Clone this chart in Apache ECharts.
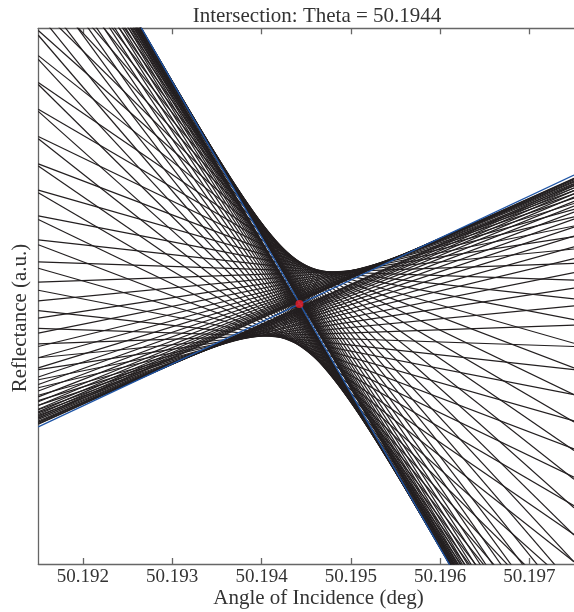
<!DOCTYPE html><html><head><meta charset="utf-8">
<script src="https://cdn.jsdelivr.net/npm/echarts@6/dist/echarts.min.js"></script>
<style>html,body{margin:0;padding:0;background:#fff}#c{width:574px;height:612px}</style>
</head><body><div id="c"></div><script>
// x range (deg) and tick labels
const X_MIN = 50.1915, X_MAX = 50.1975;
const xTicks = [50.192, 50.193, 50.194, 50.195, 50.196, 50.197];
// reflectance (a.u.) of each black curve at the left edge (X_MIN) and right edge (X_MAX)
const reflLeft = [
 1.331,1.320,1.330,1.317,1.328,1.313,1.327,1.308,1.325,1.303,
 1.322,1.297,1.319,1.289,1.315,1.280,1.310,1.269,1.304,1.257,
 1.296,1.243,1.288,1.226,1.277,1.207,1.263,1.186,1.248,1.161,
 1.229,1.133,1.207,1.101,1.181,1.067,1.152,1.028,1.119,0.987,
 1.081,0.942,1.040,0.895,0.996,0.845,0.949,0.794,0.899,0.743,
 0.849,0.693,0.798,0.643,0.747,0.596,0.698,0.552,0.650,0.511,
 0.605,0.473,0.564,0.440,0.526,0.411,0.491,0.385,0.459,0.363,
 0.431,0.344,0.406,0.329,0.385,0.315,0.366,0.305,0.349,0.296,
 0.335,0.288,0.323,0.282,0.312,0.277,0.303,0.273,0.296,0.270,
 0.289,0.267,0.284,0.265,0.279,0.264,0.275,0.262,0.272,0.261];
const reflRight = [
 -0.389,-0.400,-0.386,-0.399,-0.382,-0.397,-0.377,-0.395,-0.371,-0.393,
 -0.365,-0.390,-0.357,-0.387,-0.347,-0.382,-0.337,-0.377,-0.324,-0.371,
 -0.309,-0.363,-0.292,-0.353,-0.272,-0.341,-0.250,-0.328,-0.224,-0.311,
 -0.195,-0.291,-0.162,-0.268,-0.126,-0.241,-0.086,-0.210,-0.043,-0.175,
 0.004,-0.135,0.054,-0.092,0.105,-0.046,0.158,0.004,0.212,0.055,
 0.265,0.109,0.316,0.162,0.366,0.215,0.412,0.267,0.456,0.316,
 0.495,0.363,0.530,0.406,0.561,0.446,0.588,0.482,0.611,0.515,
 0.631,0.544,0.648,0.570,0.662,0.592,0.673,0.612,0.683,0.629,
 0.691,0.644,0.697,0.657,0.702,0.668,0.707,0.677,0.710,0.685,
 0.713,0.691,0.715,0.697,0.717,0.702,0.719,0.706,0.720,0.709];
// the two blue reference curves [at X_MIN, at X_MAX]
const blueSteep = [1.336, -0.406];
const blueShallow = [0.256, 0.726];
// intersection point
const intersection = [50.194425, 0.4853];

const series = reflLeft.map((yl, i) => ({
  type: 'line', data: [[X_MIN, yl], [X_MAX, reflRight[i]]], showSymbol: false, silent: true,
  lineStyle: { color: '#231f20', width: 1.2 }, z: 2, animation: false
}));
for (const b of [blueSteep, blueShallow]) series.push({
  type: 'line', data: [[X_MIN, b[0]], [X_MAX, b[1]]], showSymbol: false, silent: true,
  lineStyle: { color: '#1f55a6', width: 1.3 }, z: 3, animation: false
});
series.push({ type: 'scatter', data: [intersection], symbolSize: 8, itemStyle: { color: '#ec1c24' }, silent: true, z: 5, animation: false });

const F = 'Liberation Serif';
const ax = { color: '#666', width: 1.3 };
const ch = echarts.init(document.getElementById('c'));
ch.setOption({
  animation: false,
  grid: { left: 38.3, right: 0, top: 28.3, bottom: 48 },
  xAxis: [
    { type: 'value', min: X_MIN, max: X_MAX, position: 'bottom',
      axisLine: { lineStyle: ax }, splitLine: { show: false },
      axisTick: { inside: true, length: 6, customValues: xTicks, lineStyle: ax },
      axisLabel: { customValues: xTicks, formatter: v => v.toFixed(3), fontFamily: F, fontSize: 19, color: '#333', margin: 4 } },
    { type: 'value', min: X_MIN, max: X_MAX, position: 'top',
      axisLine: { lineStyle: ax }, splitLine: { show: false },
      axisTick: { inside: true, length: 6, customValues: xTicks, lineStyle: ax },
      axisLabel: { show: false } }
  ],
  yAxis: { type: 'value', min: 0, max: 1, axisLine: { show: true, lineStyle: ax },
    axisTick: { show: false }, axisLabel: { show: false }, splitLine: { show: false } },
  graphic: [
    { type: 'text', x: 317, y: 16, style: { text: 'Intersection: Theta = 50.1944', fontFamily: F, fontSize: 21, fill: '#333', textAlign: 'center', textVerticalAlign: 'middle' } },
    { type: 'text', x: 318.5, y: 598, style: { text: 'Angle of Incidence (deg)', fontFamily: F, fontSize: 21, fill: '#333', textAlign: 'center', textVerticalAlign: 'middle' } },
    { type: 'text', x: 20.5, y: 318, rotation: Math.PI / 2, style: { text: 'Reflectance (a.u.)', fontFamily: F, fontSize: 21, fill: '#333', textAlign: 'center', textVerticalAlign: 'middle' } }
  ],
  series
});
</script></body></html>
